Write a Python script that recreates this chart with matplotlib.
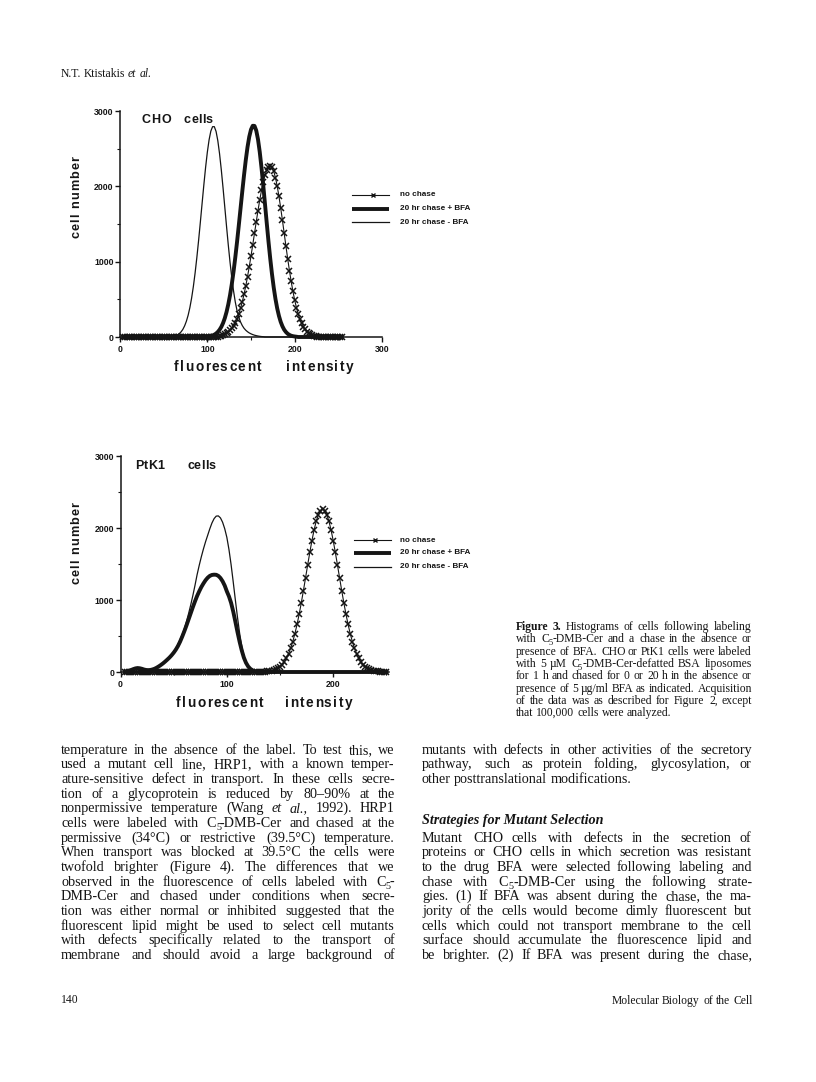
import re
import numpy as np
import matplotlib
matplotlib.use("Agg")
import matplotlib.pyplot as plt
from matplotlib.font_manager import FontProperties
from matplotlib.ticker import MultipleLocator

# ---------------- data (cell counts per fluorescence channel) ----------------
CHANNEL_STEP = 2          # channel spacing of the histogram samples
CHO_START = 4             # first channel drawn (CHO panel)
PTK_START = 4             # first channel drawn (PtK1 panel)

SERIES_LABELS = ["no chase", "20 hr chase + BFA", "20 hr chase - BFA"]

CHO_NO_CHASE = ([0] * 55 +
                [12, 17, 25, 35, 48, 65, 87, 114, 149, 192,
                 245, 307, 381, 467, 566, 677, 800, 933, 1076, 1224,
                 1377, 1529, 1678, 1818, 1945, 2057, 2147, 2215, 2256, 2270,
                 2252, 2200, 2116, 2003, 1867, 1713, 1548, 1377, 1206, 1039,
                 882, 737, 606, 491, 391, 307, 237, 181, 135, 100,
                 72, 52, 36, 25, 17, 11] +
                [0] * 15)
CHO_BFA_PLUS = ([0] * 48 +
                [5, 8, 13, 20, 31, 46, 67, 96, 134, 185,
                 250, 332, 434, 556, 701, 867, 1055, 1260, 1479, 1704,
                 1930, 2147, 2347, 2520, 2658, 2754, 2804, 2802, 2741, 2624,
                 2457, 2250, 2016, 1767, 1516, 1271, 1044, 838, 658, 506,
                 380, 280, 201, 142, 97, 66, 43, 28, 17, 11,
                 7, 4] +
                [0] * 26)
CHO_BFA_MINUS = ([0] * 28 +
                 [7, 12, 19, 30, 46, 69, 102, 148, 209, 288,
                  390, 517, 670, 850, 1056, 1282, 1524, 1773, 2019, 2250,
                  2453, 2617, 2733, 2792, 2792, 2729, 2606, 2432, 2218, 1978,
                  1723, 1467, 1220, 992, 788, 612, 465, 350, 265, 200,
                  152, 116, 90, 70, 54, 42, 32, 24, 18, 13,
                  9, 6, 4] +
                 [0] * 45)

PTK_NO_CHASE = ([0] * 66 +
                [4, 7, 11, 16, 25, 36, 52, 74, 103, 142,
                 191, 253, 330, 423, 533, 660, 803, 961, 1131, 1308,
                 1487, 1661, 1825, 1971, 2093, 2184, 2241, 2260, 2241, 2184,
                 2093, 1971, 1825, 1661, 1487, 1308, 1131, 961, 803, 660,
                 533, 423, 330, 253, 191, 142, 103, 74, 52, 36,
                 25, 16, 11, 7, 4] +
                [0] * 3)
PTK_BFA_PLUS = ([0, 5, 15, 28, 40, 50, 55, 52, 45, 35,
                 28, 25, 28, 35, 45, 60, 78, 98, 120, 145,
                 172, 200, 232, 268, 310, 360, 420, 490, 565, 645,
                 730, 815, 900, 980, 1055, 1120, 1180, 1230, 1275, 1310,
                 1335, 1348, 1352, 1350, 1335, 1305, 1260, 1200, 1120, 1050,
                 960, 840, 700, 555, 420, 300, 200, 128, 78, 45,
                 25, 12, 5] +
                [0] * 61)
PTK_BFA_MINUS = ([0] * 12 +
                 [15, 25, 40, 60, 80, 100, 125, 150, 180, 210,
                  245, 285, 330, 385, 450, 520, 600, 700, 810, 930,
                  1060, 1200, 1350, 1480, 1600, 1710, 1810, 1900, 1990, 2070,
                  2130, 2165, 2168, 2140, 2080, 1990, 1870, 1700, 1490, 1250,
                  1000, 760, 540, 360, 225, 135, 78, 44, 24, 12,
                  5, 2] +
                 [0] * 60)

YTICKS = [0, 1000, 2000, 3000]
CHO_XTICKS = [0, 100, 200, 300]
PTK_XTICKS = [0, 100, 200]
CHO_XMAX = 300
PTK_XMAX = 252
YMAX = 3000

# ---------------- page text ----------------
HEADER = "N.T. Ktistakis *et* *al.*"
LEFT_COLUMN = [
    "temperature in the absence of the label. To test this, we",
    "used a mutant cell line, HRP1, with a known temper-",
    "ature-sensitive defect in transport. In these cells secre-",
    "tion of a glycoprotein is reduced by 80–90% at the",
    "nonpermissive temperature (Wang *et* *al.*, 1992). HRP1",
    "cells were labeled with C$_5$-DMB-Cer and chased at the",
    "permissive (34°C) or restrictive (39.5°C) temperature.",
    "When transport was blocked at 39.5°C the cells were",
    "twofold brighter (Figure 4). The differences that we",
    "observed in the fluorescence of cells labeled with C$_5$-",
    "DMB-Cer and chased under conditions when secre-",
    "tion was either normal or inhibited suggested that the",
    "fluorescent lipid might be used to select cell mutants",
    "with defects specifically related to the transport of",
    "membrane and should avoid a large background of",
]
RIGHT_TOP = [
    "mutants with defects in other activities of the secretory",
    "pathway, such as protein folding, glycosylation, or",
    "other posttranslational modifications.",
]
HEADING = "Strategies for Mutant Selection"
RIGHT_BOTTOM = [
    "Mutant CHO cells with defects in the secretion of",
    "proteins or CHO cells in which secretion was resistant",
    "to the drug BFA were selected following labeling and",
    "chase with C$_5$-DMB-Cer using the following strate-",
    "gies. (1) If BFA was absent during the chase, the ma-",
    "jority of the cells would become dimly fluorescent but",
    "cells which could not transport membrane to the cell",
    "surface should accumulate the fluorescence lipid and",
    "be brighter. (2) If BFA was present during the chase,",
]
CAPTION = [
    "**Figure** **3.**  Histograms of cells following labeling",
    "with C$_5$-DMB-Cer and a chase in the absence or",
    "presence of BFA. CHO or PtK1 cells were labeled",
    "with 5 µM C$_5$-DMB-Cer-defatted BSA liposomes",
    "for 1 h and chased for 0 or 20 h in the absence or",
    "presence of 5 µg/ml BFA as indicated. Acquisition",
    "of the data was as described for Figure 2, except",
    "that 100,000 cells were analyzed.",
]
PAGE_NUMBER = "140"
JOURNAL = "Molecular Biology of the Cell"

# ---------------- setup ----------------
plt.rcParams['font.family'] = ['Liberation Sans', 'DejaVu Sans']

INK = '#151515'
W, H, DPI = 816, 1082, 100
fig = plt.figure(figsize=(W / DPI, H / DPI), dpi=DPI)
fig.patch.set_facecolor('white')
page = fig.add_axes([0, 0, 1, 1])
page.set_xlim(0, W)
page.set_ylim(H, 0)
page.axis('off')
renderer = fig.canvas.get_renderer()

SERIF = FontProperties(family='Liberation Serif', size=10.2)
CAP_FP = FontProperties(family='Liberation Serif', size=8.4)
HEAD_FP = FontProperties(family='Liberation Serif', size=8.4)
SANS_B = dict(family='Liberation Sans', weight='bold')


def rect(x0, y0, x1, y1):
    return [x0 / W, 1 - y1 / H, (x1 - x0) / W, (y1 - y0) / H]


def adv(s, fp):
    a = renderer.get_text_width_height_descent('H' + s + 'H', fp, ismath=False)[0]
    b = renderer.get_text_width_height_descent('HH', fp, ismath=False)[0]
    return a - b


def spaced(x, y, s, fp, track, vertical=False):
    pos = 0.0
    for ch in s:
        if ch != ' ':
            if vertical:
                page.text(x, round(y - pos), ch, fontproperties=fp, ha='left', va='baseline',
                          rotation=90, rotation_mode='anchor', color=INK)
            else:
                page.text(round(x + pos), y, ch, fontproperties=fp, ha='left', va='baseline',
                          color=INK)
        pos += adv(ch, fp) + track


def parse_word(w, fp):
    p = fp.copy()
    if w.startswith('**') and w.endswith('**') and len(w) > 4:
        w = w[2:-2]
        p.set_weight('bold')
    elif w.startswith('*') and len(w) > 2 and ('*' in w[1:]):
        end = w.index('*', 1)
        w = w[1:end] + w[end + 1:]
        p.set_style('italic')
    size = p.get_size_in_points()
    segs = []
    for i, part in enumerate(re.split(r'\$_(\w+)\$', w)):
        if not part:
            continue
        if i % 2 == 1:
            sp = p.copy()
            sp.set_size(size * 0.72)
            segs.append((part, sp, round(size * DPI / 72 * 0.22)))
        else:
            segs.append((part, p, 0))
    return segs


def set_line(text, x0, x1, y, fp, justify=True, align='left'):
    y = round(y)
    words = text.split()
    size = fp.get_size_in_points()
    for _ in range(12):
        f = fp.copy()
        f.set_size(size)
        parsed = [parse_word(w, f) for w in words]
        widths = [sum(adv(s, p) for s, p, _ in segs) for segs in parsed]
        space = adv(' ', f)
        total = sum(widths)
        if justify and len(words) > 1:
            gap = (x1 - x0 - total) / (len(words) - 1)
            if gap < 0.7 * space:
                size *= 0.985
                continue
        else:
            gap = space
        break
    start = x0 if align == 'left' else x1 - (total + gap * (len(words) - 1))
    xx = start
    for segs, wd in zip(parsed, widths):
        sx = xx
        for s, p, dy in segs:
            page.text(round(sx), y + dy, s, fontproperties=p, ha='left', va='baseline',
                      color=INK)
            sx += adv(s, p)
        xx += wd + gap


# ---------------- histograms ----------------
def draw_hist(r, xmax, xticks, start, no_chase, plus, minus):
    ax = fig.add_axes(r)
    ax.set_facecolor('none')
    x_nc = start + CHANNEL_STEP * np.arange(len(no_chase))
    x_pl = start + CHANNEL_STEP * np.arange(len(plus))
    x_mi = start + CHANNEL_STEP * np.arange(len(minus))
    ax.plot(x_mi, minus, color=INK, lw=0.9, zorder=3, clip_on=False)
    ax.plot(x_pl, plus, color=INK, lw=2.8, zorder=4, clip_on=False)
    ax.plot(x_nc, no_chase, color=INK, lw=0.8, marker='x', ms=4.8, mew=1.1,
            zorder=5, clip_on=False)
    ax.set_xlim(0, xmax)
    ax.set_ylim(0, YMAX)
    for s in ('top', 'right'):
        ax.spines[s].set_visible(False)
    for s in ('left', 'bottom'):
        ax.spines[s].set_linewidth(1.1)
        ax.spines[s].set_color(INK)
    ax.set_xticks(xticks)
    ax.set_yticks(YTICKS)
    ax.set_xticklabels([str(v) for v in xticks], fontsize=6.3, **SANS_B)
    ax.set_yticklabels([str(v) for v in YTICKS], fontsize=6.3, **SANS_B)
    ax.xaxis.set_minor_locator(MultipleLocator(50))
    ax.yaxis.set_minor_locator(MultipleLocator(500))
    ax.tick_params(which='major', direction='out', length=3.5, width=1.0, color=INK,
                   labelcolor=INK)
    ax.tick_params(axis='x', which='major', pad=2.3)
    ax.tick_params(axis='y', which='major', pad=1.0)
    ax.tick_params(which='minor', direction='out', length=2.0, width=0.8, color=INK)
    return ax


draw_hist(rect(120, 111, 382, 337), CHO_XMAX, CHO_XTICKS, CHO_START,
          CHO_NO_CHASE, CHO_BFA_PLUS, CHO_BFA_MINUS)
draw_hist(rect(120.5, 456, 388.5, 672), PTK_XMAX, PTK_XTICKS, PTK_START,
          PTK_NO_CHASE, PTK_BFA_PLUS, PTK_BFA_MINUS)


def legend(x0, x1, ys, xt):
    page.plot([x0, x1], [ys[0], ys[0]], color=INK, lw=0.8)
    page.plot([(x0 + x1) / 2 + 2], [ys[0]], color=INK, marker='x', ms=3.5, mew=1.0)
    page.plot([x0, x1], [ys[1], ys[1]], color=INK, lw=2.8, solid_capstyle='butt')
    page.plot([x0, x1], [ys[2], ys[2]], color=INK, lw=0.9)
    for yy, lab in zip(ys, SERIES_LABELS):
        page.text(xt, yy, lab, fontsize=5.9, ha='left', va='center', color=INK, **SANS_B)


legend(352, 389, [195, 208.5, 222], 400)
legend(354, 391, [540, 553, 566.5], 400)

TITLE_FP = FontProperties(family='Liberation Sans', weight='bold', size=9.0)
LABEL_FP = FontProperties(family='Liberation Sans', weight='bold', size=9.8)
YLAB_FP = FontProperties(family='Liberation Sans', weight='bold', size=9.2)

spaced(142, 123, "CHO", TITLE_FP, 0.3)
spaced(184, 123, "cells", TITLE_FP, 0.3)
spaced(135, 469, "PtK1", TITLE_FP, 0.3)
spaced(187, 469, "cells", TITLE_FP, 0.3)

spaced(174, 371, "fluorescent", LABEL_FP, 1.4)
spaced(286, 371, "intensity", LABEL_FP, 1.4)
spaced(176, 707, "fluorescent", LABEL_FP, 1.4)
spaced(285, 707, "intensity", LABEL_FP, 1.4)

spaced(79, 238, "cell number", YLAB_FP, 1.1, vertical=True)
spaced(79, 584, "cell number", YLAB_FP, 1.1, vertical=True)

# ---------------- page text ----------------
set_line(HEADER, 61, 200, 77, HEAD_FP, justify=False)

BASE0, LEAD = 753.5, 14.67
LX0, LX1 = 61, 395
RX0, RX1 = 422, 752
for i, line in enumerate(LEFT_COLUMN):
    set_line(line, LX0, LX1, BASE0 + i * LEAD, SERIF, justify=True)
for i, line in enumerate(RIGHT_TOP):
    set_line(line, RX0, RX1, BASE0 + i * LEAD, SERIF, justify=(i < len(RIGHT_TOP) - 1))
HFP = SERIF.copy()
HFP.set_weight('bold')
HFP.set_style('italic')
page.text(RX0, 824, HEADING, fontproperties=HFP, ha='left', va='baseline', color=INK)
for i, line in enumerate(RIGHT_BOTTOM):
    set_line(line, RX0, RX1, BASE0 + (i + 6) * LEAD, SERIF, justify=True)

CX0, CX1 = 516, 752
CBASE, CLEAD = 630, 12.3
for i, line in enumerate(CAPTION):
    set_line(line, CX0, CX1, CBASE + i * CLEAD, CAP_FP, justify=(i < len(CAPTION) - 1))

set_line(PAGE_NUMBER, 61, 120, 1003, HEAD_FP, justify=False)
set_line(JOURNAL, 500, 752, 1003.5, HEAD_FP, justify=False, align='right')

fig.savefig("out.png", dpi=DPI, facecolor='white')
